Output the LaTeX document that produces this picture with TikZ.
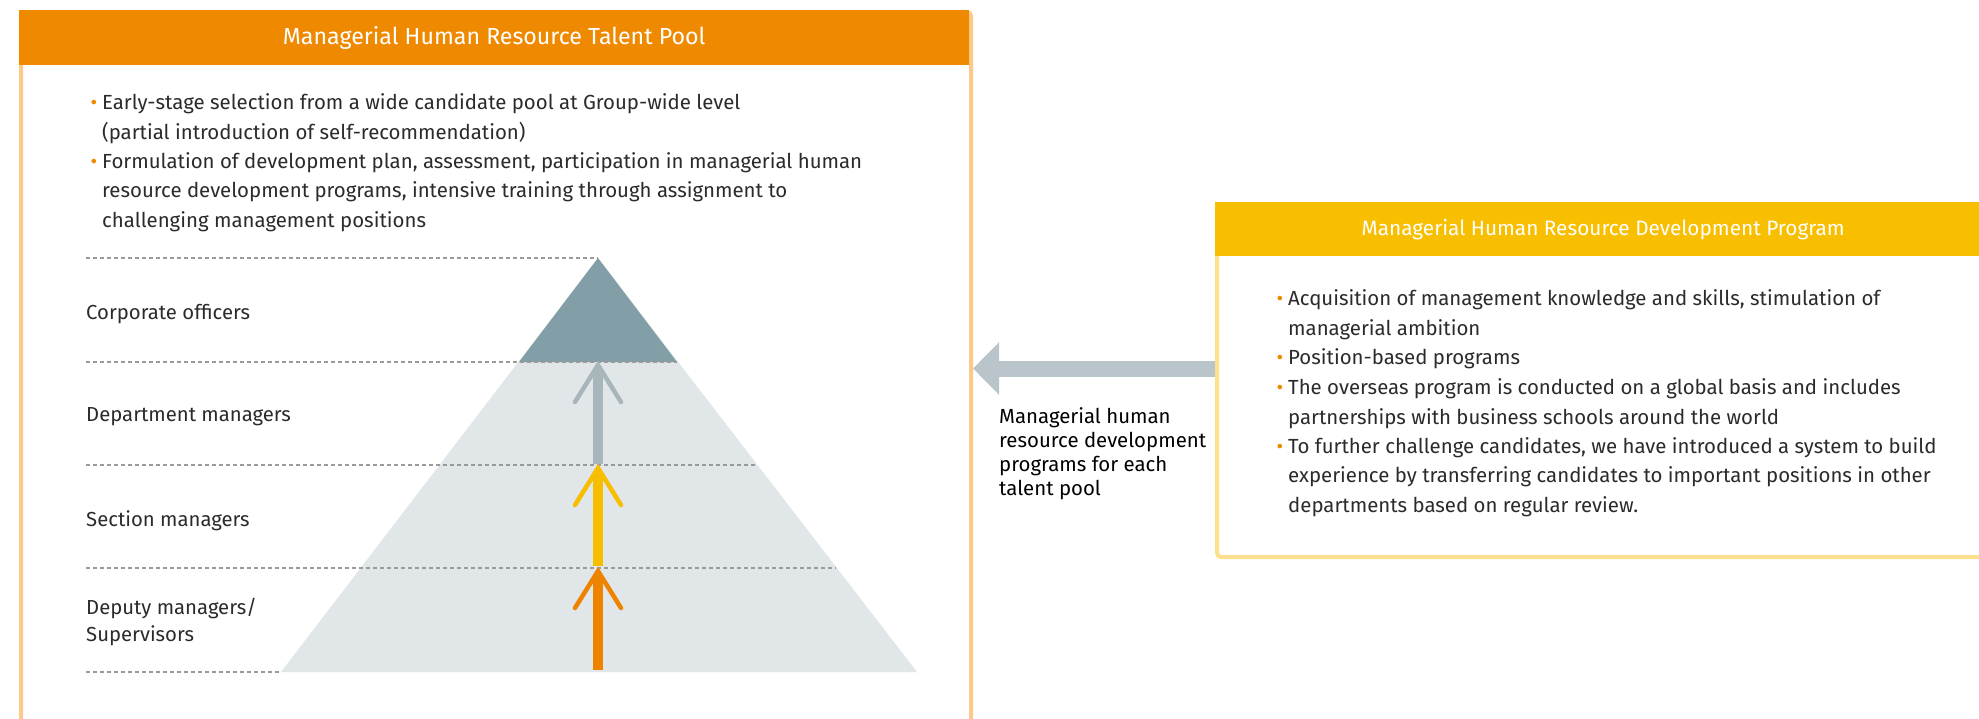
\documentclass[tikz,border=0pt]{standalone}
\usepackage{fontspec}
\setmainfont{Fira Sans}
\usetikzlibrary{positioning,arrows.meta}

\definecolor{poolOrange}{HTML}{EF8A00}
\definecolor{poolFrame}{HTML}{FBC98A}
\definecolor{progYellow}{HTML}{F8BF00}
\definecolor{progFrame}{HTML}{FCE08E}
\definecolor{topGray}{HTML}{829EA7}
\definecolor{baseGray}{HTML}{E1E6E8}
\definecolor{riseGray}{HTML}{A8B6BB}
\definecolor{riseYellow}{HTML}{F7BE00}
\definecolor{riseOrange}{HTML}{EE8300}
\definecolor{flowGray}{HTML}{B9C5CB}
\definecolor{dashGray}{HTML}{9A9A9A}
\definecolor{bodyText}{HTML}{2B2B2B}

\newcommand{\bul}{\llap{\textcolor{poolOrange}{\textbullet}\hspace{5pt}}}

\begin{document}
\begin{tikzpicture}[
  x=1pt, y=-1pt,
  every node/.style={inner sep=0pt, text=bodyText, font=\fontsize{20.4}{29.5}\selectfont},
  frame/.style={draw, line width=4pt, fill=white, anchor=north west},
  head/.style={anchor=north west, text=white},
  item/.style={anchor=base west, align=left},
  level/.style={anchor=base west, align=left, font=\fontsize{20.3}{27}\selectfont},
  rule/.style={draw=dashGray, line width=1.2pt, dash pattern=on 4pt off 3pt},
  riser/.style={line width=10pt},
  barb/.style={line width=4.5pt, line cap=round, line join=miter}
]
\useasboundingbox (0,0) rectangle (1979,718);

% talent pool
\node[frame, draw=poolFrame, rounded corners=4pt, minimum width=950pt, minimum height=740pt]
  (poolBox) at (19,10) {};
\node[head, fill=poolOrange, minimum width=950pt, minimum height=55pt, font=\fontsize{23.2}{27}\selectfont]
  (poolHead) at (19,10) {Managerial Human Resource Talent Pool};
\node[item] (early) at (102,139)
  {\bul Early-stage selection from a wide candidate pool at Group-wide level\\
   (partial introduction of self-recommendation)};
\node[item] (plan) at (102,227)
  {\bul Formulation of development plan, assessment, participation in managerial human\\
   resource development programs, intensive training through assignment to\\
   challenging management positions};

% pyramid
\coordinate (apex) at (598,258);
\coordinate (baseL) at (281,672);
\coordinate (baseR) at (917,672);
\fill[baseGray] (apex) -- (baseL) -- (baseR) -- cycle;
\fill[topGray] (apex) -- (519,362) -- (677,362) -- cycle;
\draw[rule] (86,258) -- (apex);
\draw[rule] (86,362) -- (677,362);
\draw[rule] (86,465) -- (757,465);
\draw[rule] (86,568) -- (836,568);
\draw[rule] (86,672) -- (baseL);

\node[level] (officers) at (86,319) {Corporate officers};
\node[level] (dept) at (86,421) {Department managers};
\node[level] (section) at (86,526) {Section managers};
\node[level] (deputy) at (86,641) {Deputy managers/\\Supervisors};

\draw[riser, riseGray] (598,464) -- (598,370);
\draw[barb, riseGray] (575,402) -- (598,365) -- (621,402);
\draw[riser, riseYellow] (598,566) -- (598,473);
\draw[barb, riseYellow] (575,505) -- (598,468) -- (621,505);
\draw[riser, riseOrange] (598,670) -- (598,576);
\draw[barb, riseOrange] (575,608) -- (598,571) -- (621,608);

% development program
\node[frame, draw=progFrame, rounded corners=4pt, minimum width=790pt, minimum height=353pt]
  (progBox) at (1215,202) {};
\node[head, fill=progYellow, minimum width=776pt, minimum height=54pt, font=\fontsize{20.8}{24}\selectfont]
  (progHead) at (1215,202) {Managerial Human Resource Development Program};
\node[item] (skills) at (1288,335)
  {\bul Acquisition of management knowledge and skills, stimulation of\\
   managerial ambition};
\node[item] (position) at (1288,364) {\bul Position-based programs};
\node[item] (overseas) at (1288,424)
  {\bul The overseas program is conducted on a global basis and includes\\
   partnerships with business schools around the world};
\node[item] (transfer) at (1288,512)
  {\bul To further challenge candidates, we have introduced a system to build\\
   experience by transferring candidates to important positions in other\\
   departments based on regular review.};

\draw[flowGray, line width=16pt, -{Triangle[length=26pt,width=51pt]}]
  ([yshift=12pt]progBox.west) -- ([yshift=12pt]progBox.west -| poolBox.east);
\node[item, text=black, font=\fontsize{20.4}{24}\selectfont] (note) at (999,495)
  {Managerial human\\resource development\\programs for each\\talent pool};
\end{tikzpicture}
\end{document}
